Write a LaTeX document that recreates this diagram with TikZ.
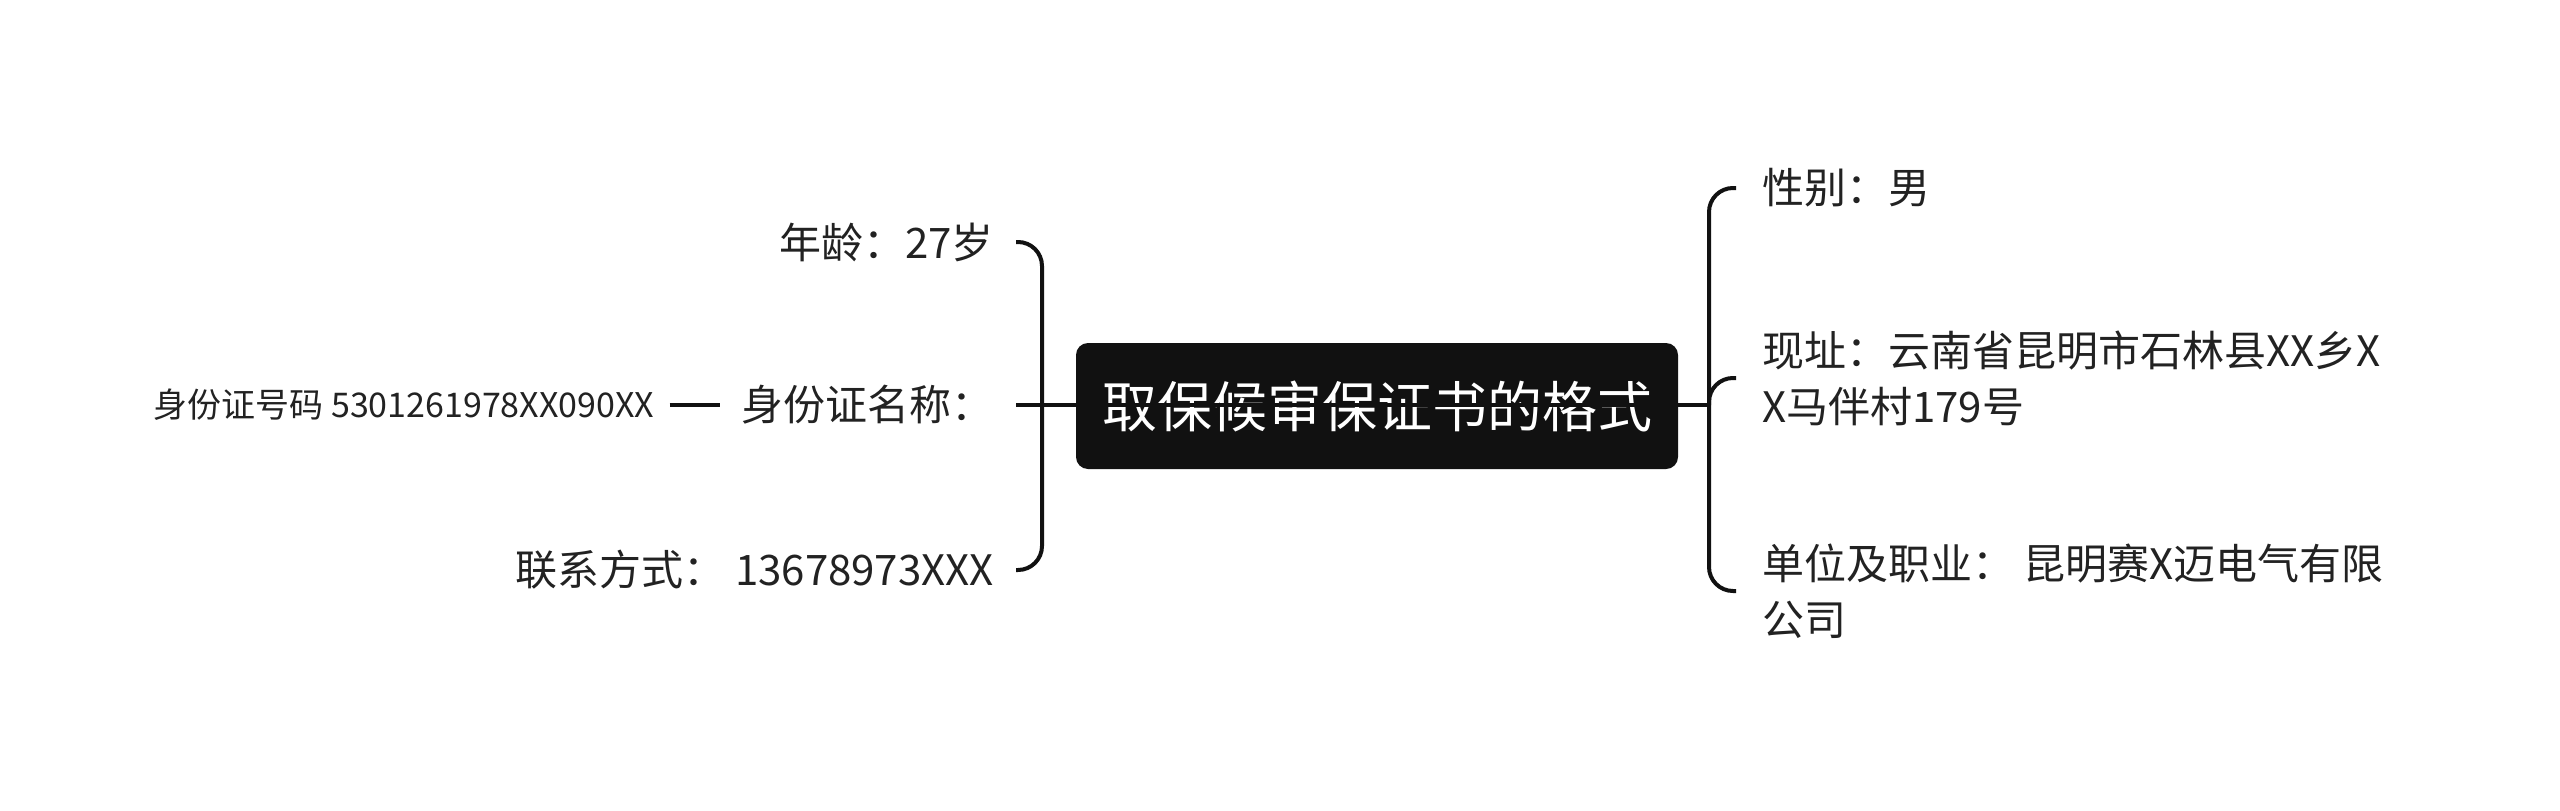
\documentclass[tikz,border=0pt]{standalone}
\usepackage{fontspec}
\usepackage{tikz}
\usetikzlibrary{positioning}
\newfontfamily\cjk{Noto Sans CJK SC}
\definecolor{ink}{HTML}{111111}
\definecolor{txt}{HTML}{222222}
\tikzset{
  rootbox/.style={
    rectangle, rounded corners=12pt, fill=ink, text=white,
    minimum width=602pt, minimum height=126pt, inner sep=0pt,
    font=\cjk\fontsize{55}{66}\selectfont
  },
  topicleft/.style={
    anchor=east, text=txt, inner xsep=22pt, inner ysep=4pt,
    align=right, font=\cjk\fontsize{42}{56}\selectfont
  },
  topicright/.style={
    anchor=west, text=txt, inner xsep=26pt, inner ysep=4pt,
    align=left, font=\cjk\fontsize{42}{56}\selectfont
  },
  subtopic/.style={
    text=txt, inner xsep=15pt, font=\cjk\fontsize{34}{42}\selectfont
  },
  branch/.style={
    draw=ink, line width=4pt, rounded corners=24pt
  },
}

\begin{document}
\begin{tikzpicture}[x=1pt, y=-1pt, node distance=50pt]
  \useasboundingbox (0,0) rectangle (2560,811);
  \node[rootbox] (root) at (1377,406) {取保候审保证书的格式};
  \coordinate (ljoin) at (1042,405);
  \coordinate (rjoin) at (1709,405);

  % left side
  \node[topicleft] (age) at (1016,242) {年龄：27岁};
  \node[topicleft] (idn) at (1016,405) {身份证名称：};
  \node[topicleft] (tel) at (1016,570) {联系方式：\ 13678973XXX};
  \node[subtopic, left=of idn] (idnum) {身份证号码 5301261978XX090XX};

  % right side
  \node[topicright] (sex) at (1736,188) {性别：男};
  \node[topicright] (addr) at (1736,378) {现址：云南省昆明市石林县XX乡X\\X马伴村179号};
  \node[topicright] (job) at (1736,591) {单位及职业：\ 昆明赛X迈电气有限\\公司};

  \draw[branch] (ljoin) |- (age.east);
  \draw[branch] (ljoin) |- (tel.east);
  \draw[branch] (rjoin) |- (sex.west);
  \draw[branch] (rjoin) |- (addr.west);
  \draw[branch] (rjoin) |- (job.west);
  \draw[branch] (idn.east) -- (rjoin);
  \draw[branch] (idnum) -- (idn);
\end{tikzpicture}
\end{document}
